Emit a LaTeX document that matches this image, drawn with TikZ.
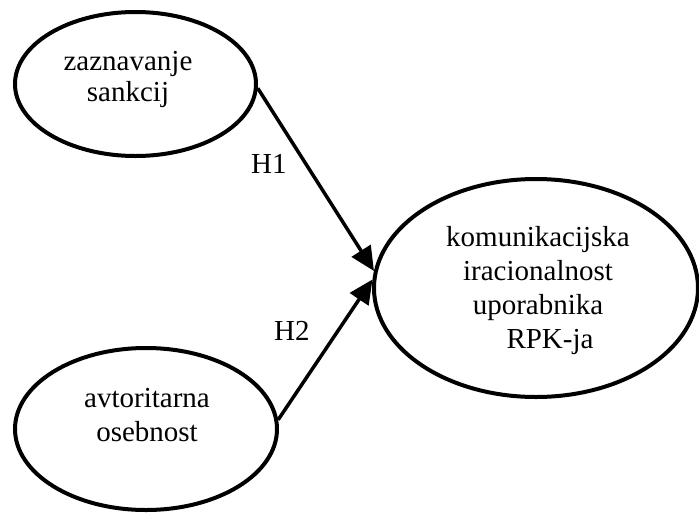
\documentclass[tikz,border=0pt]{standalone}
\usepackage{fontspec}
\setmainfont{Liberation Serif}
\usetikzlibrary{shapes.geometric,arrows.meta}
\tikzset{
  latent/.style={ellipse, draw=black, line width=4pt, inner sep=0pt},
  lbl/.style={anchor=base, inner sep=0pt, align=center, font=\fontsize{29}{32}\selectfont},
  hyp/.style={line width=3.5pt, -{Triangle[length=24pt,width=22pt]}},
}
\begin{document}
\begin{tikzpicture}[x=1pt,y=-1pt]
\useasboundingbox (0,0) rectangle (699,512);
\node[latent, minimum width=241pt, minimum height=144pt] (e1) at (135.5,84) {};
\node[latent, minimum width=262pt, minimum height=162pt] (e2) at (146,429) {};
\node[latent, minimum width=324pt, minimum height=218pt] (e3) at (536,288) {};
\node[lbl, font=\fontsize{29}{31.7}\selectfont] (t1) at (128,101.7) {zaznavanje\\sankcij};
\node[lbl, font=\fontsize{29}{34.4}\selectfont] (t2) at (147,441.9) {avtoritarna\\osebnost};
\node[lbl, font=\fontsize{29}{33.7}\selectfont] (t3) at (538,348) {komunikacijska\\iracionalnost\\uporabnika\\\hspace*{24pt}RPK-ja};
\draw[hyp] (e1.-2) -- (e3.174.7);
\draw[hyp] (e2.4) -- (e3.177.2);
\node[lbl, anchor=base west] (h1) at (251,173) {H1};
\node[lbl, anchor=base west] (h2) at (274,340) {H2};
\end{tikzpicture}
\end{document}
